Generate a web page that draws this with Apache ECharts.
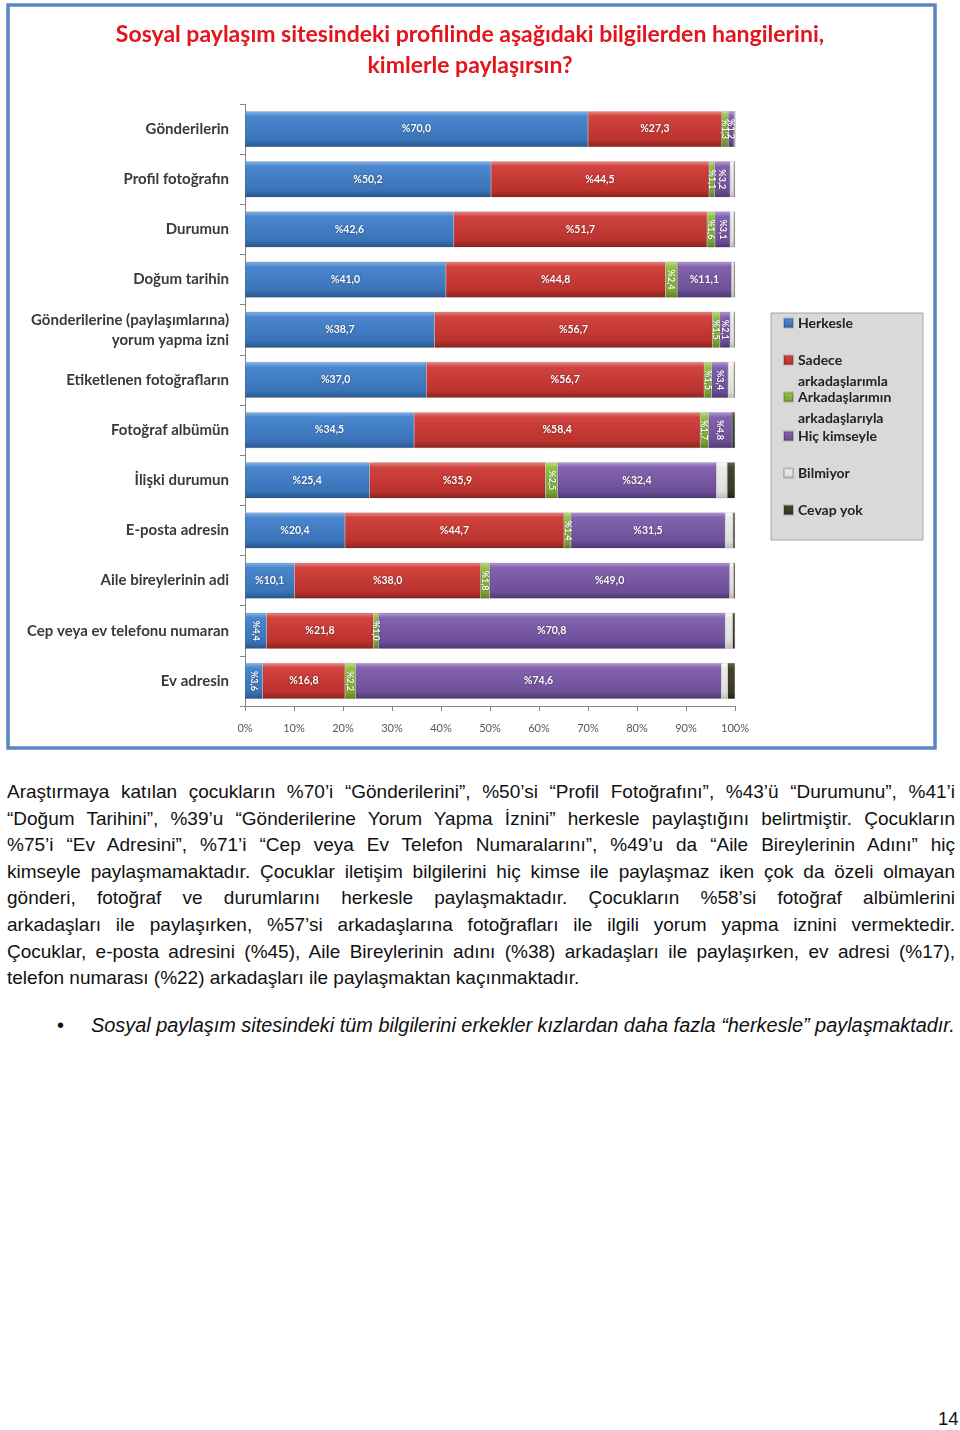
<!DOCTYPE html>
<html><head><meta charset="utf-8">
<script src="https://cdn.jsdelivr.net/npm/echarts@6/dist/echarts.min.js"></script>
<style>
body{margin:0;background:#fff;width:960px;height:1430px;position:relative;font-family:"Liberation Sans",Arial,sans-serif;overflow:hidden;}
#chart{position:absolute;left:0;top:0;width:960px;height:760px;}
#para{position:absolute;left:7px;top:779px;width:948px;font-size:19px;line-height:26.6px;color:#111;}
#para div{text-align:justify;text-align-last:justify;}
#para div.last{text-align-last:left;}
#bullet{position:absolute;left:0;top:1012px;width:960px;font-size:19.9px;line-height:26px;color:#111;font-style:italic;}
#bullet .dot{position:absolute;left:57px;font-style:normal;}
#bullet .txt{position:absolute;left:91px;white-space:nowrap;}
#page{position:absolute;left:938px;top:1408px;font-size:18.5px;color:#111;}
</style></head>
<body>
<div id="chart"></div>
<div id="para">
<div>Araştırmaya katılan çocukların %70’i “Gönderilerini”, %50’si “Profil Fotoğrafını”, %43’ü “Durumunu”, %41’i</div>
<div>“Doğum Tarihini”, %39’u “Gönderilerine Yorum Yapma İznini” herkesle paylaştığını belirtmiştir. Çocukların</div>
<div>%75’i “Ev Adresini”, %71’i “Cep veya Ev Telefon Numaralarını”, %49’u da “Aile Bireylerinin Adını” hiç</div>
<div>kimseyle paylaşmamaktadır. Çocuklar iletişim bilgilerini hiç kimse ile paylaşmaz iken çok da özeli olmayan</div>
<div>gönderi, fotoğraf ve durumlarını herkesle paylaşmaktadır. Çocukların %58’si fotoğraf albümlerini</div>
<div>arkadaşları ile paylaşırken, %57’si arkadaşlarına fotoğrafları ile ilgili yorum yapma iznini vermektedir.</div>
<div>Çocuklar, e-posta adresini (%45), Aile Bireylerinin adını (%38) arkadaşları ile paylaşırken, ev adresi (%17),</div>
<div class="last">telefon numarası (%22) arkadaşları ile paylaşmaktan kaçınmaktadır.</div>
</div>
<div id="bullet"><span class="dot">•</span><span class="txt">Sosyal paylaşım sitesindeki tüm bilgilerini erkekler kızlardan daha fazla “herkesle” paylaşmaktadır.</span></div>
<div id="page">14</div>
<script>
const categories = ['Gönderilerin','Profil fotoğrafın','Durumun','Doğum tarihin','Gönderilerine (paylaşımlarına)\nyorum yapma izni','Etiketlenen fotoğrafların','Fotoğraf albümün','İlişki durumun','E-posta adresin','Aile bireylerinin adi','Cep veya ev telefonu numaran','Ev adresin'];
const herkesle  = [70.0,50.2,42.6,41.0,38.7,37.0,34.5,25.4,20.4,10.1,4.4,3.6];
const sadece    = [27.3,44.5,51.7,44.8,56.7,56.7,58.4,35.9,44.7,38.0,21.8,16.8];
const arkArk    = [1.3,1.1,1.6,2.4,1.5,1.5,1.7,2.5,1.4,1.8,1.0,2.2];
const hicKimse  = [1.2,3.2,3.1,11.1,2.1,3.4,4.8,32.4,31.5,49.0,70.8,74.6];
const bilmiyor  = [0.2,0.8,0.8,0.5,0.8,1.2,0.0,2.2,1.6,0.8,1.5,1.3];
const cevapYok  = [0.0,0.2,0.2,0.2,0.2,0.2,0.6,1.6,0.4,0.3,0.5,1.5];
const seriesNames = ['Herkesle','Sadece arkadaşlarımla','Arkadaşlarımın arkadaşlarıyla','Hiç kimseyle','Bilmiyor','Cevap yok'];
const legendLabels = {'Sadece arkadaşlarımla':'\nSadece\narkadaşlarımla','Arkadaşlarımın arkadaşlarıyla':'\nArkadaşlarımın\narkadaşlarıyla'};
const titleText = 'Sosyal paylaşım sitesindeki profilinde aşağıdaki bilgilerden hangilerini,\nkimlerle paylaşırsın?';

const FONT = 'Lato, "Liberation Sans", sans-serif';
function grad(c0,c1,c2,c3){
  return new echarts.graphic.LinearGradient(0,0,0,1,[
    {offset:0,color:c0},{offset:0.14,color:c1},{offset:0.8,color:c2},{offset:1,color:c3}]);
}
const colors = [
  grad('#8ab4e6','#4a87cf','#3a73b8','#28568c'),
  grad('#e98a86','#d1433e','#bb322e','#8a2320'),
  grad('#c3e08a','#94c242','#7faa33','#5d7f24'),
  grad('#b39cd6','#8463ae','#6d4f98','#4e3772'),
  grad('#ffffff','#ececec','#dedede','#bdbdbd'),
  grad('#66664a','#45452d','#383824','#222214')
];
const allData = [herkesle,sadece,arkArk,hicKimse,bilmiyor,cevapYok];
const fmt = p => '%' + Number(p.value).toFixed(1).replace('.', ',');

const series = seriesNames.map((name, si) => ({
  name, type:'bar', stack:'total', barWidth:36,
  itemStyle:{color:colors[si], borderColor:'rgba(0,0,0,0.18)', borderWidth:0.6},
  emphasis:{disabled:true},
  data: allData[si].map(v => ({
    value:v,
    label:{
      show: si < 4 && v > 0,
      rotate: v < 6 ? -90 : 0,
      fontSize: v < 6 ? 9 : 10.5
    }
  })),
  label:{show:false, position:'inside', color:'#fff', fontWeight:'bold', fontFamily:FONT,
    textShadowColor:'rgba(0,0,0,0.5)', textShadowBlur:2, formatter:fmt}
}));

// legend icon centre rows (layout)
const legendCenters = [323, 360, 397, 436, 473, 510];
const legends = seriesNames.map((n, i) => {
  const multi = !!legendLabels[n];
  const lh = multi ? 21 : 19;
  const lines = multi ? 3 : 1;
  return {
    orient:'vertical', left:783, top: legendCenters[i] - lh*lines/2, padding:0,
    itemWidth:9, itemHeight:9, icon:'rect', selectedMode:false,
    data:[n],
    formatter: x => legendLabels[x] || x,
    textStyle:{fontFamily:FONT, fontWeight:'bold', fontSize:14, color:'#222', lineHeight:lh}
  };
});

const chart = echarts.init(document.getElementById('chart'), null, {renderer:'canvas'});
chart.setOption({
  animation:false,
  backgroundColor:'#fff',
  title:{text:titleText, left:465, top:14, textAlign:'center',
    textStyle:{color:'#e3141c', fontFamily:FONT, fontWeight:'bold', fontSize:23, lineHeight:31}},
  graphic:[
    {type:'rect', shape:{x:8,y:5,width:927,height:743}, style:{fill:'none', stroke:'#5b86c0', lineWidth:3.5}, z:0},
    {type:'rect', shape:{x:771,y:313,width:152,height:227}, style:{fill:'#d9d9d9', stroke:'#a6a6a6', lineWidth:1}, z:0}
  ],
  legend: legends,
  grid:{left:245, right:225, top:104, bottom:54, containLabel:false},
  xAxis:{type:'value', min:0, max:100, interval:10,
    axisLine:{show:true, lineStyle:{color:'#868686'}},
    axisTick:{show:true, length:5, lineStyle:{color:'#868686'}},
    splitLine:{show:false},
    axisLabel:{formatter:'{value}%', fontSize:11, color:'#595959', fontFamily:FONT, margin:17}},
  yAxis:{type:'category', data:categories, inverse:true,
    axisLine:{show:true, lineStyle:{color:'#868686'}},
    axisTick:{show:true, length:5, lineStyle:{color:'#868686'}},
    axisLabel:{fontSize:15, fontWeight:'bold', color:'#3a3a3a', fontFamily:FONT, margin:16, lineHeight:20}},
  series
});
</script>
</body></html>
